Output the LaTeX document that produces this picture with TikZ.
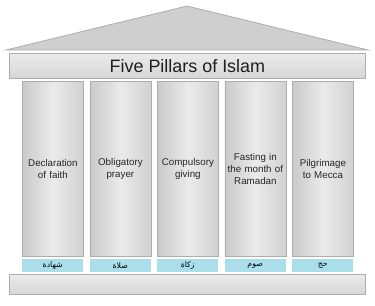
\documentclass[tikz,border=0pt]{standalone}
\usepackage{fontspec}
\setmainfont{Liberation Sans}
\newfontfamily\arabicfont[Script=Arabic]{DejaVu Sans}
\TeXXeTstate=1
\begin{document}
\begin{tikzpicture}[x=1bp,y=-1bp,
  edge/.style={draw=black!32,line width=0.8bp},
  roofshape/.style={edge,fill=black!19},
  barbox/.style={edge,top color=black!8,bottom color=black!16,minimum height=25bp,minimum width=356bp,inner sep=0pt,anchor=north west},
  pillarbox/.style={edge,left color=black!21,right color=black!18,middle color=black!8,minimum width=61bp,minimum height=175bp,inner sep=0pt,anchor=north west},
  labelbox/.style={fill={rgb,255:red,170;green,222;blue,234},minimum width=61bp,minimum height=13bp,inner sep=0pt,anchor=north west,font=\arabicfont\fontsize{7.8}{8}\selectfont},
  pillartext/.style={text width=60bp,align=center,font=\fontsize{9.8}{12}\selectfont,text=black!85}
]
\useasboundingbox (0,0) rectangle (375,306);
\path[roofshape] (6,50) coordinate (rl) -- (187,6) coordinate (rp) -- (368,50) coordinate (rr) -- cycle;
\node[barbox] (title) at (9,53) {};
\node[font=\fontsize{18}{20}\selectfont,text=black!88] (titletext) at (title.center) {Five Pillars of Islam};
\foreach \i/\x/\t/\a in {1/22/{Declaration\\of faith}/شهادة,
                          2/89.5/{Obligatory\\prayer}/صلاة,
                          3/157/{Compulsory\\giving}/زكاة,
                          4/224.5/{Fasting in\\the month of\\Ramadan}/صوم,
                          5/292/{Pilgrimage\\to Mecca}/حج}{
  \node[pillarbox] (p\i) at (\x,81) {};
  \node[pillartext] (t\i) at (p\i.center) {\t};
  \node[labelbox] (l\i) at (\x,259) {\beginR\a\endR};
}
\node[barbox,minimum height=20bp] (base) at (9,274) {};
\end{tikzpicture}
\end{document}
